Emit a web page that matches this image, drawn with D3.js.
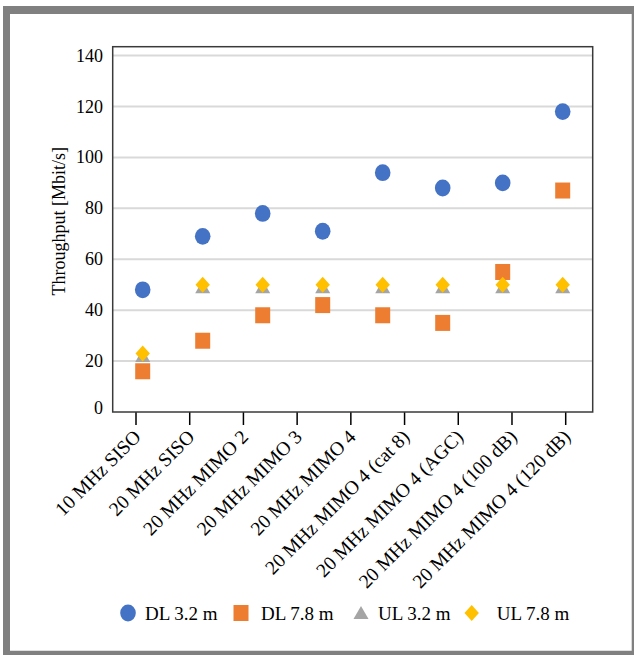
<!DOCTYPE html>
<html>
<head>
<meta charset="utf-8">
<script src="https://cdn.jsdelivr.net/npm/d3@7"></script>
<style>
  html, body { margin: 0; padding: 0; background: #fff; }
  svg { display: block; }
  text { font-family: "Liberation Serif", "Times New Roman", serif; fill: #000; }
</style>
</head>
<body>
<svg id="chart" width="634" height="655"></svg>
<script>
// ---- data ----
const categories = [
  "10 MHz SISO", "20 MHz SISO", "20 MHz MIMO 2", "20 MHz MIMO 3",
  "20 MHz MIMO 4", "20 MHz MIMO 4 (cat 8)", "20 MHz MIMO 4 (AGC)",
  "20 MHz MIMO 4 (100 dB)", "20 MHz MIMO 4 (120 dB)"
];
const pointCategories = categories.slice(1).map((c, i) => i); // 8 data slots
const dl32 = [48, 69, 78, 71, 94, 88, 90, 118];
const dl78 = [16, 28, 38, 42, 38, 35, 55, 87];
const ul32 = [22, 49, 49, 49, 49, 49, 49, 49];
const ul78 = [23, 50, 50, 50, 50, 50, 50, 50];
const yTicks = [0, 20, 40, 60, 80, 100, 120, 140];
const seriesNames = ["DL 3.2 m", "DL 7.8 m", "UL 3.2 m", "UL 7.8 m"];
const seriesColors = ["#4472C4", "#ED7D31", "#A5A5A5", "#FFC000"];
const seriesShapes = ["circle", "square", "triangle", "diamond"];

// ---- layout ----
const svg = d3.select("#chart");
const W = 634, H = 655;
const plot = { left: 112.7, right: 592.7, top: 46.7, bottom: 412 };

// outer gray frame
const frame = svg.append("path")
  .attr("fill", "#808080")
  .attr("fill-rule", "evenodd")
  .attr("d", `M3,6H${W}V${H}H3Z M10,14H631.7V650.7H10Z`);

const x = d3.scaleBand().domain(pointCategories).range([plot.left, plot.right]);
const xTick = d3.scalePoint().domain(d3.range(categories.length)).range([136, 565.7]);
const y = d3.scaleLinear().domain([0, 143.5]).range([plot.bottom, plot.top]);

// gridlines
svg.append("g").selectAll("line")
  .data(yTicks.filter(d => d > 0))
  .join("line")
  .attr("x1", plot.left).attr("x2", plot.right)
  .attr("y1", d => y(d)).attr("y2", d => y(d))
  .attr("stroke", "#d9d9d9").attr("stroke-width", 2);

// y tick labels
svg.append("g").selectAll("text")
  .data(yTicks)
  .join("text")
  .attr("x", 103)
  .attr("y", d => y(d) + (d === 0 ? -4 : 0))
  .attr("text-anchor", "end")
  .attr("dominant-baseline", "central")
  .attr("font-size", 18)
  .text(d => d);

// x ticks
svg.append("g").selectAll("line")
  .data(d3.range(categories.length))
  .join("line")
  .attr("x1", d => xTick(d)).attr("x2", d => xTick(d))
  .attr("y1", plot.bottom).attr("y2", plot.bottom + 13)
  .attr("stroke", "#000").attr("stroke-width", 1.5);

// x labels
svg.append("g").selectAll("text")
  .data(categories)
  .join("text")
  .attr("transform", (d, i) => `translate(${xTick(i) + 6},${plot.bottom + 26}) rotate(-45)`)
  .attr("text-anchor", "end")
  .attr("font-size", 19.5)
  .text(d => d);

// plot frame
svg.append("rect")
  .attr("x", plot.left).attr("y", plot.top)
  .attr("width", plot.right - plot.left).attr("height", plot.bottom - plot.top)
  .attr("fill", "none").attr("stroke", "#3a3a3a").attr("stroke-width", 1.5);

// y axis title
svg.append("text")
  .attr("transform", `translate(65,${(plot.top + plot.bottom) / 2 - 8}) rotate(-90)`)
  .attr("text-anchor", "middle")
  .attr("font-size", 18)
  .text("Throughput [Mbit/s]");

// marker drawing
function drawMarker(g, shape, color, cx, cy) {
  if (shape === "circle") {
    g.append("ellipse").attr("cx", cx).attr("cy", cy).attr("rx", 7.8).attr("ry", 8.4).attr("fill", color);
  } else if (shape === "square") {
    g.append("rect").attr("x", cx - 7.5).attr("y", cy - 8).attr("width", 15).attr("height", 16).attr("fill", color);
  } else if (shape === "triangle") {
    g.append("path").attr("d", `M${cx},${cy - 7}L${cx + 7.5},${cy + 6}L${cx - 7.5},${cy + 6}Z`).attr("fill", color);
  } else if (shape === "diamond") {
    g.append("path").attr("d", `M${cx},${cy - 8}L${cx + 7.2},${cy}L${cx},${cy + 8}L${cx - 7.2},${cy}Z`).attr("fill", color);
  }
}

const allSeries = [dl32, dl78, ul32, ul78];
const cx = i => x(i) + x.bandwidth() / 2;
allSeries.forEach((vals, s) => {
  const g = svg.append("g");
  vals.forEach((v, i) => drawMarker(g, seriesShapes[s], seriesColors[s], cx(i), y(v)));
});

// legend
const legendY = 613;
const legendMarkerX = [128, 241, 361, 471.7];
const legendTextX = [145, 261, 378, 496.7];
const lg = svg.append("g");
seriesNames.forEach((name, s) => {
  drawMarker(lg, seriesShapes[s], seriesColors[s], legendMarkerX[s], legendY);
  lg.append("text")
    .attr("x", legendTextX[s]).attr("y", legendY + 7)
    .attr("font-size", 19)
    .text(name);
});
</script>
</body>
</html>
